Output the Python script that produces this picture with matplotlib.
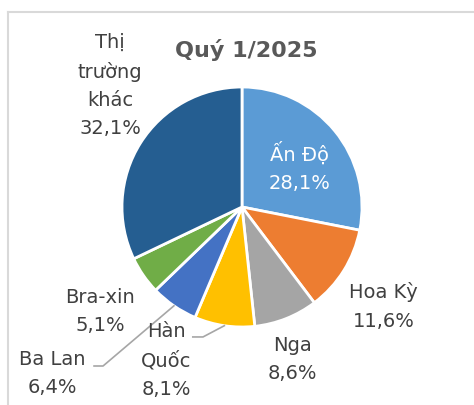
import numpy as np
import matplotlib
matplotlib.use("Agg")
import matplotlib.pyplot as plt
from matplotlib.lines import Line2D

# data
markets = ["Ấn Độ", "Hoa Kỳ", "Nga", "Hàn\nQuốc", "Ba Lan", "Bra-xin", "Thị\ntrường\nkhác"]
shares = [28.1, 11.6, 8.6, 8.1, 6.4, 5.1, 32.1]
colors = ["#5B9BD5", "#ED7D31", "#A5A5A5", "#FFC000", "#4472C4", "#70AD47", "#255E91"]
title = "Quý 1/2025"

# layout: label centres (pie radius = 1) and which labels get a leader line
label_pos = [(0.48, 0.34), (1.18, -0.82), (0.42, -1.26), (-0.63, -1.27),
             (-1.58, -1.38), (-1.18, -0.86), (-1.10, 1.02)]
leaders = {3: (-0.325, -1.083, -0.41), 4: (-1.158, -1.325, -1.233)}

W, H, DPI = 474, 406, 100
CX, CY, R = 242, 208, 120

plt.rcParams['font.family'] = ['DejaVu Sans']
fig = plt.figure(figsize=(W / DPI, H / DPI), dpi=DPI)
ax = fig.add_axes([0, 0, 1, 1])

wedges, _ = ax.pie(shares, colors=colors, startangle=90, counterclock=False,
                   radius=1, center=(0, 0),
                   wedgeprops=dict(edgecolor='white', linewidth=2))
ax.set_xlim(-CX / R, (W - CX) / R)
ax.set_ylim((CY - H) / R, CY / R)
ax.set_aspect('auto')
ax.axis('off')

for i, (name, val) in enumerate(zip(markets, shares)):
    x, y = label_pos[i]
    txt = f"{name}\n{val:.1f}%".replace('.', ',')
    col = 'white' if i == 0 else '#404040'
    ax.text(x, y, txt, ha='center', va='center', fontsize=14, color=col,
            linespacing=1.62)

for i, (ex, ey, tx) in leaders.items():
    w = wedges[i]
    mid = np.deg2rad((w.theta1 + w.theta2) / 2)
    ax.plot([np.cos(mid), ex, tx], [np.sin(mid), ey, ey], color='#A6A6A6', lw=1.2)

fig.text(246 / W, 1 - 50 / H, title, ha='center', va='center', fontsize=16,
         fontweight='bold', color='#595959')

x0, y0 = 8 / W, 1 - 13 / H
fig.add_artist(Line2D([x0, 1.01], [y0, y0], transform=fig.transFigure, color='#D9D9D9', lw=1.5))
fig.add_artist(Line2D([x0, x0], [y0, -0.01], transform=fig.transFigure, color='#D9D9D9', lw=1.5))

fig.savefig("out.png", dpi=DPI, facecolor='white')
